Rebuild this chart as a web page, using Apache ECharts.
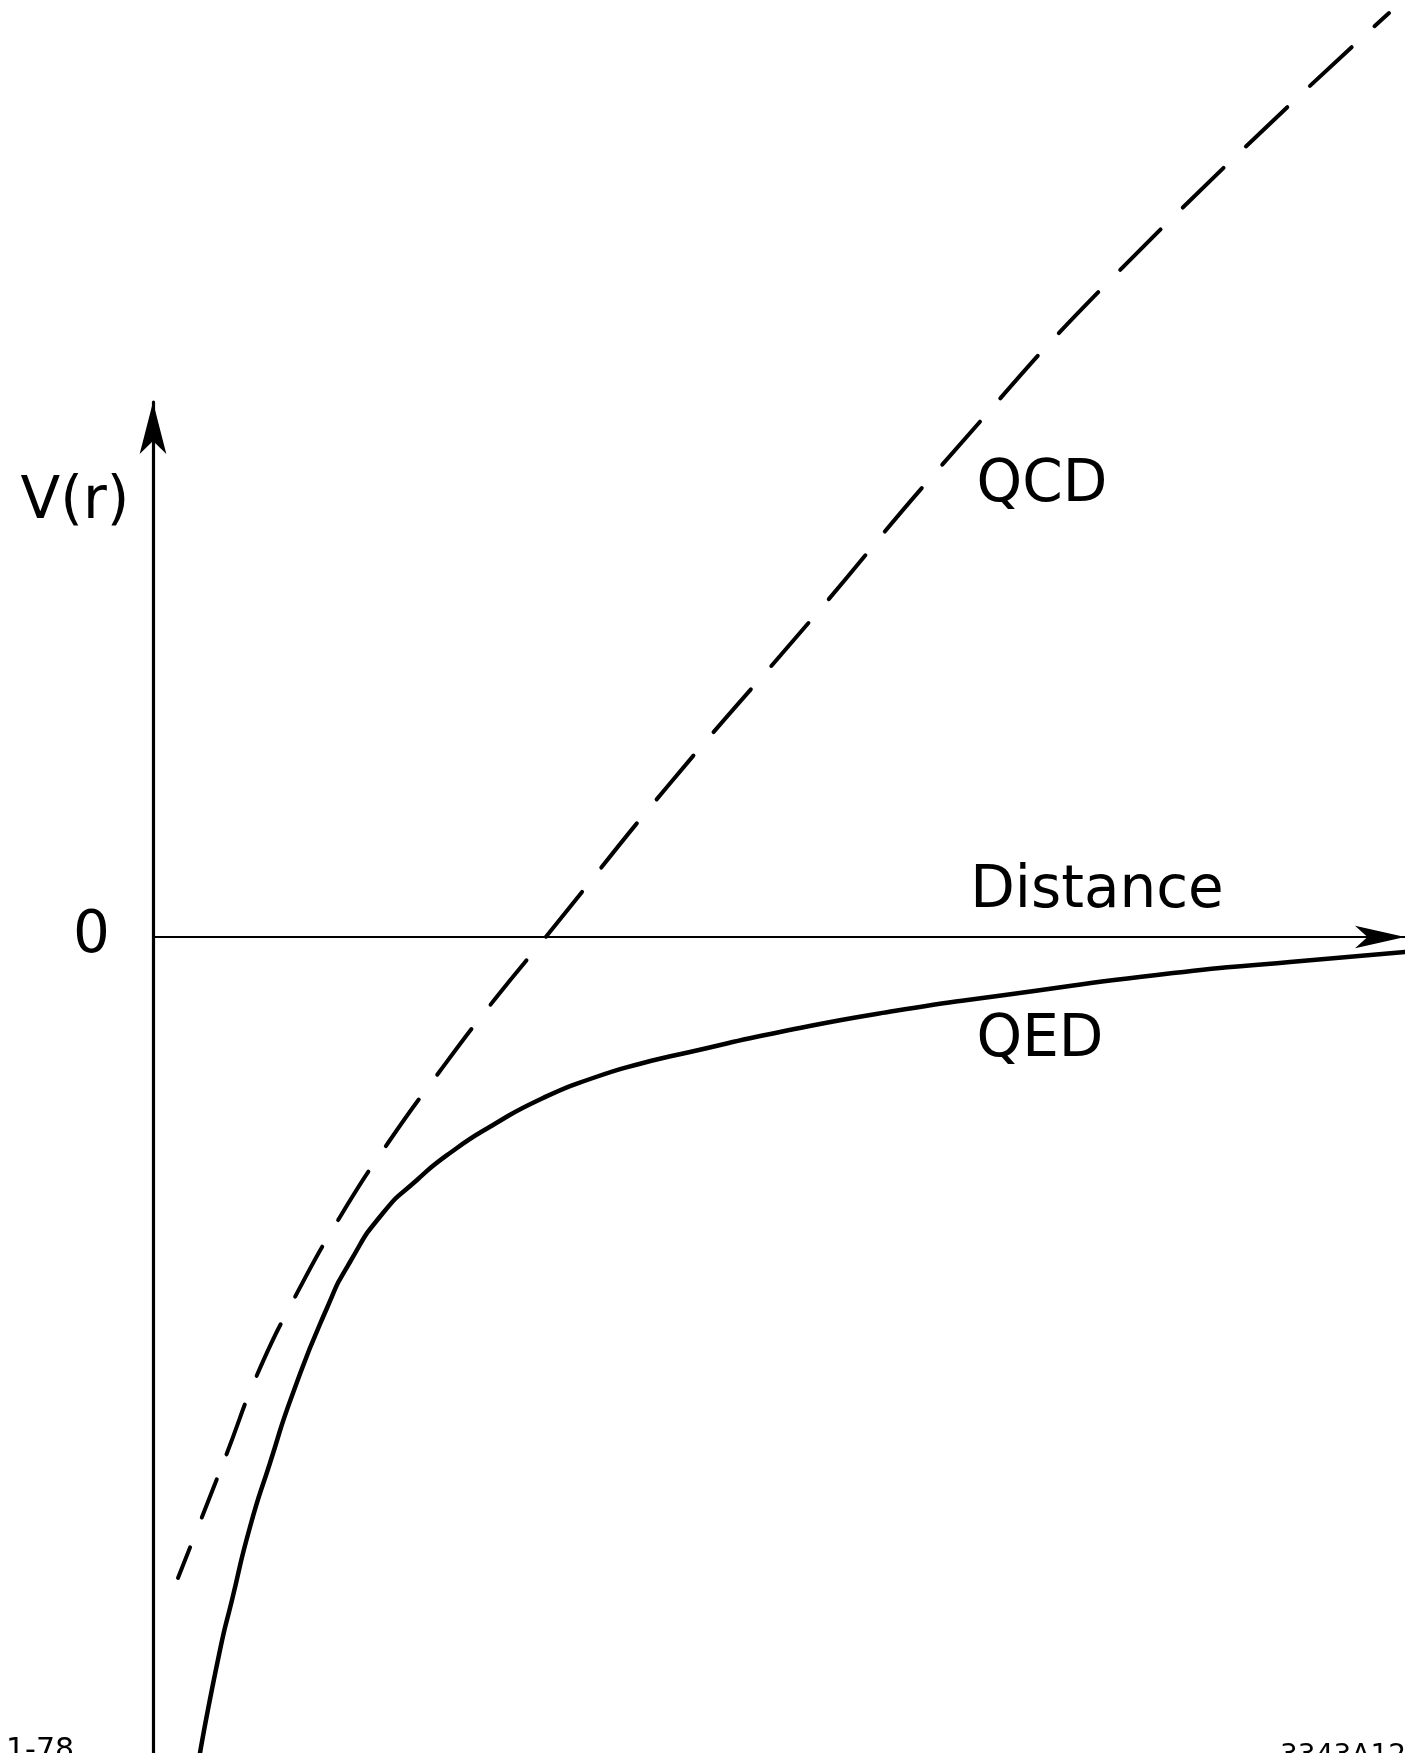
<!DOCTYPE html>
<html>
<head>
<meta charset="utf-8">
<script src="https://cdn.jsdelivr.net/npm/echarts@6/dist/echarts.min.js"></script>
<style>
  html, body { margin: 0; padding: 0; background: #ffffff; }
  #chart { width: 1405px; height: 1753px; }
</style>
</head>
<body>
<div id="chart"></div>
<script>
// Potential energy V(r) against separation, in arbitrary units.
// QED: Coulomb-like, rising towards zero from below.
const qedDistance = [0.47, 0.67, 0.79, 0.97, 1.17, 1.40, 1.74, 1.97, 2.30, 2.64, 2.97, 3.40, 3.90, 4.40, 4.90, 5.37, 6.27, 7.41, 8.52, 10.20, 11.37, 12.52];
const qedPotential = [-8.16, -7.13, -6.63, -5.90, -5.26, -4.56, -3.71, -3.25, -2.76, -2.43, -2.16, -1.88, -1.61, -1.41, -1.26, -1.15, -0.95, -0.74, -0.58, -0.36, -0.25, -0.15];

// QCD: confining, keeps growing with distance.
const qcdDistance = [0.25, 0.49, 0.74, 1.04, 1.42, 1.87, 2.35, 2.87, 3.42, 3.96, 5.14, 6.64, 7.89, 9.67, 12.36];
const qcdPotential = [-6.41, -5.80, -5.16, -4.38, -3.60, -2.80, -2.06, -1.34, -0.62, 0.04, 1.50, 3.24, 4.72, 6.67, 9.24];

const yTickValues = [0];
const xTitle = 'Distance';
const yTitle = 'V(r)';
const qcdName = 'QCD';
const qedName = 'QED';
const dateCode = '1-78';
const figureCode = '3343A12';

const FONT = '"DejaVu Sans", "Liberation Sans", sans-serif';
const INK = '#000000';

// Hand-drawn dash rhythm: the first few strokes are shorter, then a steady beat.
function dashRhythm() {
  const d = [33, 32, 41, 27, 53, 31];
  while (d.length < 80) d.push(57, 31);
  return d;
}

function pairs(xs, ys) {
  return xs.map((x, i) => [x, ys[i]]);
}

const chart = echarts.init(document.getElementById('chart'), null, { renderer: 'canvas' });

const labelText = (text, x, y, size, align, vAlign) => ({
  type: 'text',
  x: x,
  y: y,
  style: {
    text: text,
    fill: INK,
    font: 'normal ' + size + 'px ' + FONT,
    align: align,
    verticalAlign: vAlign
  },
  silent: true
});

chart.setOption({
  backgroundColor: '#ffffff',
  animation: false,
  grid: {
    left: 153,
    right: 0,
    top: 402,
    bottom: 0,
    containLabel: false,
    outerBoundsMode: 'none'
  },
  xAxis: {
    type: 'value',
    min: 0,
    max: 12.52,
    axisLine: {
      show: true,
      onZero: true,
      symbol: ['none', 'arrow'],
      symbolSize: [17, 50],
      lineStyle: { color: INK, width: 2.2 }
    },
    axisTick: { show: false },
    axisLabel: { show: false },
    splitLine: { show: false }
  },
  yAxis: {
    type: 'value',
    min: -8.16,
    max: 5.35,
    axisLine: {
      show: true,
      onZero: true,
      symbol: ['none', 'arrow'],
      symbolSize: [20, 52],
      lineStyle: { color: INK, width: 3.2 }
    },
    axisTick: { show: false },
    axisLabel: {
      show: true,
      customValues: yTickValues,
      formatter: (v) => (yTickValues.indexOf(v) >= 0 ? String(v) : ''),
      margin: 43,
      color: INK,
      fontFamily: FONT,
      fontSize: 58
    },
    splitLine: { show: false }
  },
  series: [
    {
      name: qcdName,
      type: 'line',
      data: pairs(qcdDistance, qcdPotential),
      showSymbol: false,
      smooth: 0.5,
      clip: false,
      lineStyle: {
        color: INK,
        width: 4,
        type: dashRhythm(),
        cap: 'round'
      },
      silent: true
    },
    {
      name: qedName,
      type: 'line',
      data: pairs(qedDistance, qedPotential),
      showSymbol: false,
      smooth: 0.6,
      clip: false,
      lineStyle: {
        color: INK,
        width: 4.5,
        cap: 'round'
      },
      silent: true
    }
  ],
  graphic: [
    labelText(yTitle, 75, 503, 58, 'center', 'middle'),
    labelText(qcdName, 1042, 486, 58, 'center', 'middle'),
    labelText(xTitle, 1097, 892, 58, 'center', 'middle'),
    labelText(qedName, 1040, 1041, 58, 'center', 'middle'),
    labelText(dateCode, 6, 1736, 30, 'left', 'top'),
    labelText(figureCode, 1280, 1743, 28, 'left', 'top')
  ]
});
</script>
</body>
</html>
